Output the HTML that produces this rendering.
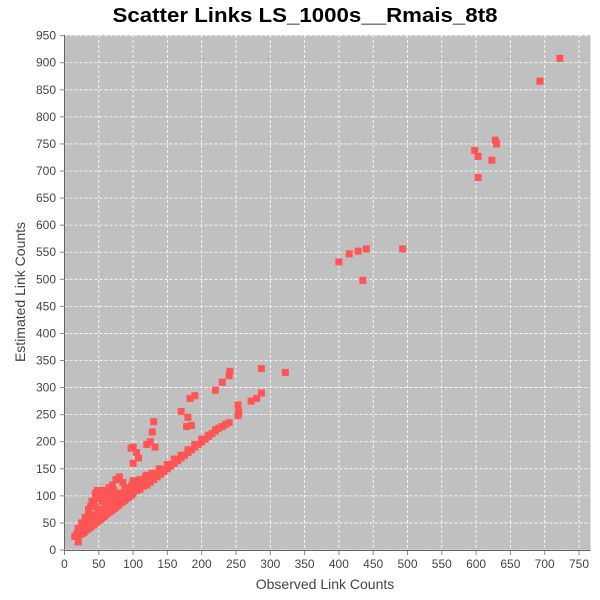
<!DOCTYPE html>
<html><head><meta charset="utf-8"><style>
body{margin:0;background:#fff;}
svg{display:block;font-family:"Liberation Sans",sans-serif;}
</style></head><body>
<svg id="chart" width="600" height="600">
<text x="305" y="22" text-anchor="middle" font-size="20" font-weight="bold" fill="#000" textLength="385" lengthAdjust="spacingAndGlyphs">Scatter Links LS_1000s__Rmais_8t8</text>
<rect x="64.5" y="35" width="526" height="515" fill="#c0c0c0"/>
<g id="grid"></g><g id="ticks"></g><g id="points"></g>
<line x1="64.5" y1="35" x2="64.5" y2="550.5" stroke="#666"/>
<line x1="64.5" y1="550.5" x2="590.5" y2="550.5" stroke="#666"/>
<text x="325" y="589" text-anchor="middle" font-size="14" fill="#444">Observed Link Counts</text>
<text transform="translate(25,292) rotate(-90)" text-anchor="middle" font-size="14" fill="#444">Estimated Link Counts</text>
</svg>
<script>
const xTicks=[0,50,100,150,200,250,300,350,400,450,500,550,600,650,700,750];
const yTicks=[0,50,100,150,200,250,300,350,400,450,500,550,600,650,700,750,800,850,900,950];
const obsX=[15,18,20,22,25,28,30,33,35,38,40,43,45,48,50,53,55,58,60,63,65,68,70,73,75,78,80,83,85,88,90,93,95,98,100,105,110,115,120,125,130,135,140,145,150,155,160,165,170,175,180,185,190,195,200,205,210,215,220,225,230,235,240,
20,25,30,35,40,45,50,55,60,65,70,75,80,85,90,95,100,105,110,115,120,125,130,140,150,160,170,180,190,200,210,220,
35,38,40,45,48,50,55,60,62,65,70,72,75,80,85,90,95,100,105,110,115,30,25,45,55,70,50,
60,68,78,88,98,108,118,128,138,100,110,120,45,52,58,65,35,42,
130,128,100,97,105,108,100,120,125,132,170,180,178,185,183,190,220,230,240,241,253,254,253,272,280,287,287,322,400,415,428,440,435,493,598,603,603,623,628,630,693,722];
const estY=[25,30,15,28,30,32,35,38,40,42,45,47,50,52,55,57,60,62,65,68,70,72,75,77,80,82,85,88,90,92,95,97,100,102,105,110,112,118,120,125,130,135,140,145,150,155,160,165,170,175,180,185,190,195,200,205,210,215,220,225,228,232,235,
40,45,50,55,60,65,70,75,80,85,90,95,100,105,108,112,118,122,125,128,132,135,140,148,158,168,175,185,195,205,212,222,
70,80,90,100,110,95,110,100,85,115,120,110,130,135,125,115,110,125,120,130,125,60,50,80,90,100,75,
90,98,105,112,120,128,135,142,150,128,125,138,105,108,95,105,75,85,
237,218,190,188,180,170,160,195,200,190,256,245,228,230,280,285,295,310,322,330,268,255,248,275,280,290,335,328,532,547,552,556,498,556,738,727,688,720,757,750,866,908];
const sx=v=>64.5+v*0.686, sy=v=>550-v*0.5414;
const NS="http://www.w3.org/2000/svg";
const grid=document.getElementById('grid'),ticks=document.getElementById('ticks'),pts=document.getElementById('points');
function mk(t,a,p){const e=document.createElementNS(NS,t);for(const k in a)e.setAttribute(k,a[k]);p.appendChild(e);return e;}
xTicks.forEach(v=>{const x=sx(v);
 const g=mk('line',{x1:x,x2:x,y1:35,y2:550,stroke:'#fff','stroke-dasharray':'3,2','stroke-width':0.8},grid);
 
 
 mk('line',{x1:x,x2:x,y1:551,y2:555,stroke:'#888'},ticks);
 const t=mk('text',{x:x,y:568,'text-anchor':'middle','font-size':12,fill:'#444'},ticks);t.textContent=v;
 
 });
yTicks.forEach(v=>{const y=sy(v);
 const g=mk('line',{x1:64.5,x2:590,y1:y,y2:y,stroke:'#fff','stroke-dasharray':'3,2','stroke-width':0.8},grid);
 
 
 mk('line',{x1:60,x2:64,y1:y,y2:y,stroke:'#888'},ticks);
 const t=mk('text',{x:56,y:y+4,'text-anchor':'end','font-size':12,fill:'#444'},ticks);t.textContent=v;
 
 });
obsX.forEach((v,i)=>{const r=mk('rect',{x:sx(v)-3.5,y:sy(estY[i])-3.5,width:7,height:7,fill:'#ff5555'},pts);
 
 });
</script>
</body></html>
